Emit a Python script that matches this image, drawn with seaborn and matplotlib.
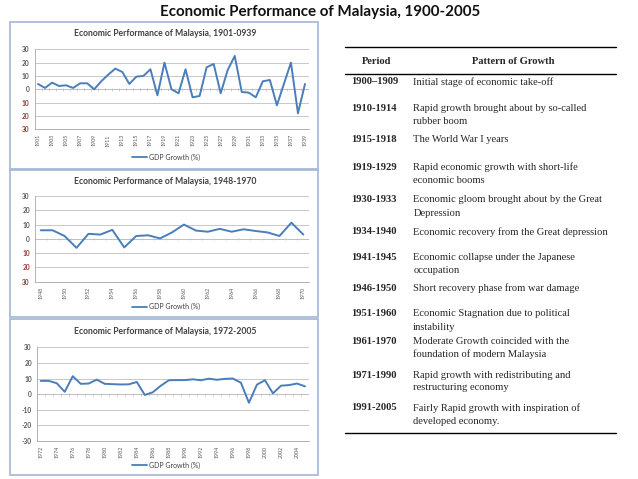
import matplotlib
matplotlib.use("Agg")
import matplotlib.pyplot as plt
import seaborn as sns
import pandas as pd
from matplotlib.patches import Rectangle
from matplotlib.lines import Line2D

# ---------------- data ----------------
years1 = list(range(1901, 1940))
growth1 = [4, 1, 5, 2.5, 3, 1, 4.5, 4.5, 0,
           6, 11, 15.5, 13, 4, 9.5, 10, 15, -4.5, 20,
           0, -3, 15, -6, -5, 16.5, 19, -3, 14.5, 25,
           -2, -2.5, -6, 6, 7, -12, 4, 20, -18, 4]

years2 = list(range(1948, 1971))
growth2 = [6, 6, 2, -6.3, 3.5, 3, 6.3, -6, 2, 2.5, 0.3, 4.5, 10,
           5.8, 5, 7, 5, 6.7, 5.5, 4.5, 2, 11.3, 3]

years3 = list(range(1972, 2006))
growth3 = [8.5, 8.5, 7, 1.5, 11.5, 6.6, 6.8, 9.3, 6.6, 6.4, 6.2, 6.3, 7.8,
           -0.5, 1.2, 5.4, 8.9, 9, 9, 9.5, 8.9, 9.9, 9.2, 9.8, 10, 7.3,
           -5.5, 6.1, 8.9, 0.5, 5.4, 5.8, 6.8, 5.0]

chart_titles = ["Economic Performance of Malaysia, 1901-0939",
                "Economic Performance of Malaysia, 1948-1970",
                "Economic Performance of Malaysia, 1972-2005"]
series_name = "GDP Growth (%)"
ytick_vals = [-30, -20, -10, 0, 10, 20, 30]
ytick_labels_abs = ["30", "20", "10", "0", "10", "20", "30"]
ytick_labels_signed = ["-30", "-20", "-10", "0", "10", "20", "30"]

main_title = "Economic Performance of Malaysia, 1900-2005"
table_header = ["Period", "Pattern of Growth"]
periods = ["1900\u20131909", "1910-1914", "1915-1918", "1919-1929", "1930-1933",
           "1934-1940", "1941-1945", "1946-1950", "1951-1960", "1961-1970",
           "1971-1990", "1991-2005"]
patterns = [["Initial stage of economic take-off"],
            ["Rapid growth brought about by so-called", "rubber boom"],
            ["The World War I years"],
            ["Rapid economic growth with short-life", "economic booms"],
            ["Economic gloom brought about by the Great", "Depression"],
            ["Economic recovery from the Great depression"],
            ["Economic collapse under the Japanese", "occupation"],
            ["Short recovery phase from war damage"],
            ["Economic Stagnation due to political", "instability"],
            ["Moderate Growth coincided with the", "foundation of modern Malaysia"],
            ["Rapid growth with redistributing and", "restructuring economy"],
            ["Fairly Rapid growth with inspiration of", "developed economy."]]

# ---------------- layout ----------------
W, H = 638, 479
sns.set_theme(style="white")
plt.rcParams['font.family'] = ['Lato', 'DejaVu Sans']

fig = plt.figure(figsize=(W / 100, H / 100), dpi=100)
fig.patch.set_facecolor("white")

def fx(x):
    return x / W

def fy(y):
    return 1 - y / H

line_color = "#4a7ebb"
grid_color = "#bfbfbf"
lab_color = "#595959"
red_color = "#953735"

fig.text(fx(320), fy(12), main_title, ha="center", va="center",
         fontsize=10.9, fontweight="bold", color="#111111")

panels = [
    dict(frame=(10, 22, 318, 169), area=(34.5, 49.3, 308.5, 129.3), ty=34, ly=157,
         years=years1, vals=growth1, signed=False),
    dict(frame=(10, 170, 318, 317), area=(34.7, 196, 309.3, 281.7), ty=181.7, ly=306.7,
         years=years2, vals=growth2, signed=False),
    dict(frame=(10, 319, 318, 475), area=(36.7, 347.3, 309, 441), ty=331.7, ly=465,
         years=years3, vals=growth3, signed=True),
]

for i, p in enumerate(panels):
    x0, y0, x1, y1 = p["frame"]
    fig.add_artist(Rectangle((fx(x0), fy(y1)), fx(x1 - x0), (y1 - y0) / H,
                             transform=fig.transFigure, facecolor="none",
                             edgecolor="#a3b6d6", lw=1.2))
    l, t, r, b = p["area"]
    ax = fig.add_axes([fx(l), fy(b), fx(r - l), (b - t) / H])
    df = pd.DataFrame({"Year": p["years"], series_name: p["vals"]})
    sns.lineplot(data=df, x="Year", y=series_name, ax=ax, color=line_color,
                 lw=1.4, legend=False)
    yrs = p["years"]
    ax.set_xlim(yrs[0] - 0.5, yrs[-1] + 0.5)
    ax.set_ylim(-30, 30)
    ax.set_xlabel("")
    ax.set_ylabel("")
    ax.set_facecolor("white")
    ax.set_yticks(ytick_vals)
    ax.yaxis.grid(True, color=grid_color, lw=0.6)
    ax.set_axisbelow(True)
    ax.axhline(0, color=grid_color, lw=0.6, zorder=1)
    ax.vlines([y + 0.5 for y in yrs[:-1]], -0.9, 0.9, color=grid_color, lw=0.5, zorder=1)
    for s in ["top", "right"]:
        ax.spines[s].set_visible(False)
    for s in ["left", "bottom"]:
        ax.spines[s].set_color("#a6a6a6")
        ax.spines[s].set_linewidth(0.6)
    labs = ytick_labels_signed if p["signed"] else ytick_labels_abs
    ax.set_yticklabels(labs)
    for v, tl in zip(ytick_vals, ax.get_yticklabels()):
        tl.set_fontsize(4.8)
        tl.set_fontweight("bold")
        tl.set_color(red_color if (v < 0 and not p["signed"]) else lab_color)
    ax.set_xticks(yrs[::2])
    ax.set_xticklabels([str(y) for y in yrs[::2]], rotation=90, fontsize=3.8,
                       color=lab_color)
    ax.tick_params(axis="both", length=2, width=0.5, color="#a6a6a6", pad=1.5)
    fig.text(fx(165), fy(p["ty"]), chart_titles[i], ha="center", va="center",
             fontsize=6.2, fontweight="bold", color="#404040")
    fig.add_artist(Line2D([fx(132), fx(147)], [fy(p["ly"]), fy(p["ly"])],
                          transform=fig.transFigure, color=line_color, lw=1.3))
    fig.text(fx(149), fy(p["ly"]), series_name, ha="left", va="center",
             fontsize=5, color="#404040")

# ---------------- table ----------------
serif = ['Liberation Serif', 'DejaVu Serif']
tfs = 7.6
for ry in [47.3, 74, 433.3]:
    fig.add_artist(Line2D([fx(345), fx(616)], [fy(ry), fy(ry)],
                          transform=fig.transFigure, color="black", lw=1.0))
fig.text(fx(377), fy(61.7), table_header[0], ha="center", va="center",
         fontsize=tfs, fontweight="bold", family=serif)
fig.text(fx(513), fy(61.7), table_header[1], ha="center", va="center",
         fontsize=tfs, fontweight="bold", family=serif)

row_y = [81.7, 108.3, 140, 167.3, 200, 231.7, 257.3, 288.3, 314, 341, 375, 408]
line_gap = 13
for per, pat, yy in zip(periods, patterns, row_y):
    fig.text(fx(350.7), fy(yy), per, ha="left", va="center", fontsize=tfs,
             fontweight="bold", family=serif)
    for k, line in enumerate(pat):
        fig.text(fx(413.3), fy(yy + k * line_gap), line, ha="left", va="center",
                 fontsize=tfs, family=serif)

fig.savefig("out.png", dpi=100, facecolor="white")
